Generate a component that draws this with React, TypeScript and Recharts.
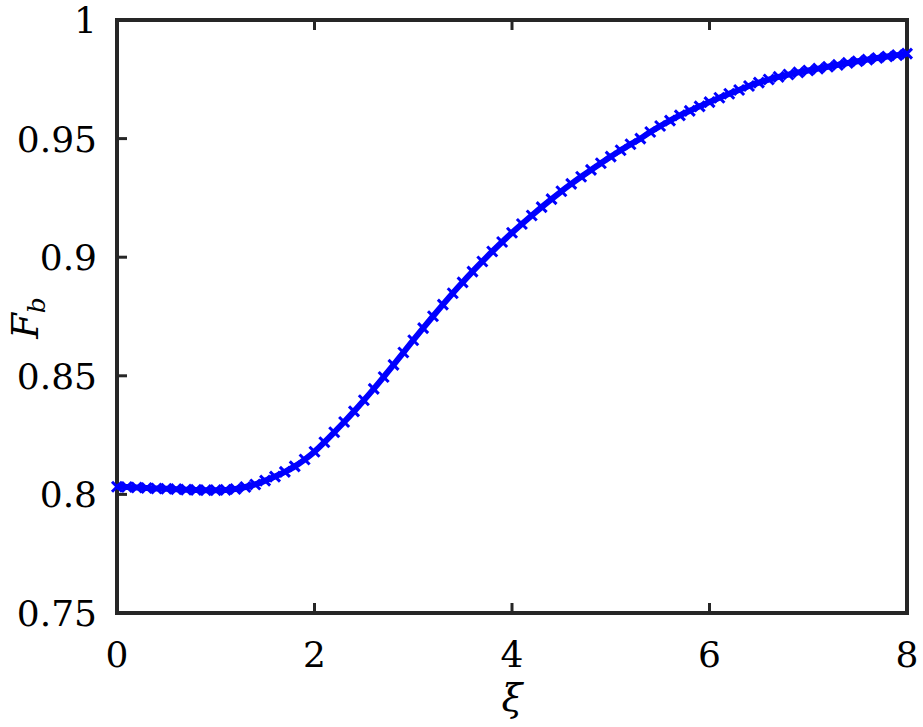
import { LineChart, Line, XAxis, YAxis, ReferenceArea } from 'recharts';

const xi = [
    0.0, 0.1, 0.2, 0.3, 0.4, 0.5, 0.6, 0.7, 0.8, 0.9,
    1.0, 1.1, 1.2, 1.3, 1.4, 1.5, 1.6, 1.7, 1.8, 1.9,
    2.0, 2.1, 2.2, 2.3, 2.4, 2.5, 2.6, 2.7, 2.8, 2.9,
    3.0, 3.1, 3.2, 3.3, 3.4, 3.5, 3.6, 3.7, 3.8, 3.9,
    4.0, 4.1, 4.2, 4.3, 4.4, 4.5, 4.6, 4.7, 4.8, 4.9,
    5.0, 5.1, 5.2, 5.3, 5.4, 5.5, 5.6, 5.7, 5.8, 5.9,
    6.0, 6.1, 6.2, 6.3, 6.4, 6.5, 6.6, 6.7, 6.8, 6.9,
    7.0, 7.1, 7.2, 7.3, 7.4, 7.5, 7.6, 7.7, 7.8, 7.9,
    8.0,
];

const fb = [
    0.8032, 0.8031, 0.8029, 0.8027, 0.8025, 0.8024, 0.8022, 0.8020, 0.8019, 0.8018,
    0.8018, 0.8019, 0.8023, 0.8031, 0.8042, 0.8058, 0.8075, 0.8095, 0.8118, 0.8147,
    0.8180, 0.8220, 0.8262, 0.8305, 0.8350, 0.8397, 0.8445, 0.8495, 0.8546, 0.8598,
    0.8650, 0.8701, 0.8751, 0.8800, 0.8848, 0.8894, 0.8939, 0.8982, 0.9024, 0.9064,
    0.9103, 0.9140, 0.9176, 0.9211, 0.9245, 0.9278, 0.9309, 0.9339, 0.9368, 0.9396,
    0.9424, 0.9451, 0.9476, 0.9500, 0.9528, 0.9553, 0.9576, 0.9598, 0.9617, 0.9636,
    0.9654, 0.9672, 0.9689, 0.9705, 0.9722, 0.9736, 0.9749, 0.9760, 0.9770, 0.9779,
    0.9787, 0.9795, 0.9803, 0.9811, 0.9819, 0.9826, 0.9833, 0.9840, 0.9846, 0.9852,
    0.9858,
];

const xTicks = [0, 2, 4, 6, 8];
const yTicks = [0.75, 0.8, 0.85, 0.9, 0.95, 1];

const data = xi.map((x, i) => ({ xi: x, fb: fb[i] }));

// Liberation Serif isn't there, DejaVu Serif is
const FONT = 'DejaVu Serif, serif';
const AXIS = '#262626';
const BLUE = '#0000ff';
const TICK_LEN = 10;

const CrossDot = (props: any) => {
    const { cx, cy } = props;
    if (cx == null || cy == null) return null;
    const s = 5;
    return (
        <g stroke={BLUE} strokeWidth={3}>
            <line x1={cx - s} y1={cy - s} x2={cx + s} y2={cy + s} />
            <line x1={cx - s} y1={cy + s} x2={cx + s} y2={cy - s} />
        </g>
    );
};

// ticks point into the plot, matlab style
const BottomTick = ({ x, y, payload }: any) => (
    <g>
        <line x1={x} y1={y} x2={x} y2={y - TICK_LEN} stroke={AXIS} strokeWidth={3} />
        <text x={x} y={y + 54} textAnchor="middle" style={{ fontFamily: FONT }} fontSize={36} fill="#000">
            {payload.value}
        </text>
    </g>
);

const LeftTick = ({ x, y, payload }: any) => (
    <g>
        <line x1={x} y1={y} x2={x + TICK_LEN} y2={y} stroke={AXIS} strokeWidth={3} />
        <text x={x - 20} y={y + 13} textAnchor="end" style={{ fontFamily: FONT }} fontSize={36} fill="#000">
            {payload.value}
        </text>
    </g>
);

const TopTick = ({ x, y }: any) => (
    <line x1={x} y1={y} x2={x} y2={y + TICK_LEN} stroke={AXIS} strokeWidth={3} />
);

const RightTick = ({ x, y }: any) => (
    <line x1={x} y1={y} x2={x - TICK_LEN} y2={y} stroke={AXIS} strokeWidth={3} />
);

export default function App() {
    return (
        <div style={{ position: 'absolute', left: 0, top: 0, background: '#fff' }}>
            <LineChart
                width={923}
                height={727}
                data={data}
                margin={{ top: 19, right: 15, left: 0, bottom: 0 }}
            >
                <XAxis
                    dataKey="xi"
                    type="number"
                    domain={[0, 8]}
                    ticks={xTicks}
                    height={114}
                    tickSize={0}
                    tickMargin={0}
                    tick={<BottomTick />}
                    axisLine={false}
                    tickLine={false}
                    label={({ viewBox }: any) => (
                        <text
                            x={viewBox.x + viewBox.width / 2}
                            y={viewBox.y + 98}
                            textAnchor="middle"
                            style={{ fontFamily: FONT, fontStyle: 'italic' }}
                            fontSize={38}
                            fill="#000"
                        >
                            ξ
                        </text>
                    )}
                />
                <XAxis
                    xAxisId="top"
                    orientation="top"
                    dataKey="xi"
                    type="number"
                    domain={[0, 8]}
                    ticks={xTicks}
                    height={1}
                    tickSize={0}
                    tickMargin={0}
                    tick={<TopTick />}
                    axisLine={false}
                    tickLine={false}
                />
                <YAxis
                    type="number"
                    domain={[0.75, 1]}
                    ticks={yTicks}
                    width={117}
                    tickSize={0}
                    tickMargin={0}
                    tick={<LeftTick />}
                    axisLine={false}
                    tickLine={false}
                    label={({ viewBox }: any) => (
                        <text
                            transform={`translate(38, ${viewBox.y + 298}) rotate(-90)`}
                            textAnchor="middle"
                            style={{ fontFamily: FONT, fontStyle: 'italic' }}
                            fontSize={37}
                            fill="#000"
                        >
                            F<tspan fontSize={25} dy={7}>b</tspan>
                        </text>
                    )}
                />
                <YAxis
                    yAxisId="right"
                    orientation="right"
                    type="number"
                    domain={[0.75, 1]}
                    ticks={yTicks}
                    width={1}
                    tickSize={0}
                    tickMargin={0}
                    tick={<RightTick />}
                    axisLine={false}
                    tickLine={false}
                />
                <ReferenceArea
                    x1={0}
                    x2={8}
                    y1={0.75}
                    y2={1}
                    fill="none"
                    fillOpacity={0}
                    stroke={AXIS}
                    strokeWidth={4}
                    strokeOpacity={1}
                />
                <Line
                    type="monotone"
                    dataKey="fb"
                    stroke={BLUE}
                    strokeWidth={6}
                    dot={<CrossDot />}
                    activeDot={false}
                    isAnimationActive={false}
                />
            </LineChart>
        </div>
    );
}
